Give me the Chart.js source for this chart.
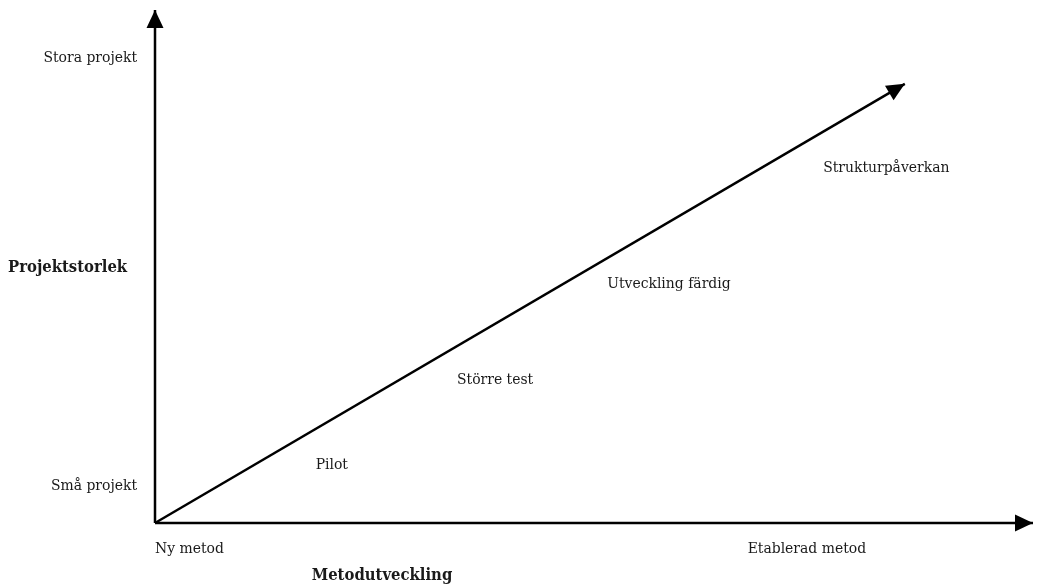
<!DOCTYPE html>
<html>
<head>
<meta charset="utf-8">
<script src="https://cdn.jsdelivr.net/npm/chart.js@4"></script>
<style>
  html, body { margin: 0; padding: 0; background: #fff; }
  #wrap { width: 1039px; height: 585px; }
</style>
</head>
<body>
<div id="wrap"><canvas id="c" width="1039" height="585"></canvas></div>
<script>
// ---------- data ----------
const xAxisTitle = "Metodutveckling";
const yAxisTitle = "Projektstorlek";
const xEndLabels = ["Ny metod", "Etablerad metod"];
const xEndPos    = [0, 67.5];
const yEndLabels = ["Små projekt", "Stora projekt"];
const yEndPos    = [7.2, 90.6];

// stages along the arrow
const stageLabels = ["Pilot", "Större test", "Utveckling färdig", "Strukturpåverkan"];
const stageX      = [18.3, 34.4, 51.5, 76.1];
const stageY      = [11.3, 27.9, 46.6, 69.2];

// the main arrow (start, end)
const trendX = [0, 85.4];
const trendY = [0, 85.6];

const FONT = "'DejaVu Serif Condensed', 'DejaVu Serif', serif";

// ---------- plugin: arrowheads + labels ----------
const diagramPlugin = {
  id: "diagram",
  afterDatasetsDraw(chart) {
    const ctx = chart.ctx;
    const xs = chart.scales.x, ys = chart.scales.y;

    // arrowheads at last point of each line
    chart.data.datasets.forEach((ds, i) => {
      const pts = chart.getDatasetMeta(i).data;
      if (pts.length < 2) return;
      const a = pts[pts.length - 2], b = pts[pts.length - 1];
      const ang = Math.atan2(b.y - a.y, b.x - a.x);
      const L = 18, W = 8.5;
      ctx.save();
      ctx.translate(b.x, b.y);
      ctx.rotate(ang);
      ctx.beginPath();
      ctx.moveTo(0, 0);
      ctx.lineTo(-L, -W);
      ctx.lineTo(-L, W);
      ctx.closePath();
      ctx.fillStyle = "#000";
      ctx.fill();
      ctx.restore();
    });

    ctx.save();
    ctx.fillStyle = "#1a1a1a";
    ctx.font = "15.5px " + FONT;
    ctx.textBaseline = "middle";

    // stage labels
    ctx.textAlign = "left";
    stageLabels.forEach((t, i) => {
      ctx.fillText(t, xs.getPixelForValue(stageX[i]), ys.getPixelForValue(stageY[i]));
    });

    // y end labels (right aligned, left of axis)
    ctx.textAlign = "right";
    yEndLabels.forEach((t, i) => {
      ctx.fillText(t, xs.left - 18, ys.getPixelForValue(yEndPos[i]));
    });

    // x end labels (below axis)
    ctx.textAlign = "left";
    xEndLabels.forEach((t, i) => {
      ctx.fillText(t, xs.getPixelForValue(xEndPos[i]), ys.bottom + 26);
    });

    // axis titles
    ctx.font = "bold 16.5px " + FONT;
    ctx.textAlign = "left";
    ctx.fillText(yAxisTitle, 8, (ys.top + ys.bottom) / 2 + 1);
    ctx.textAlign = "center";
    ctx.fillText(xAxisTitle, 382, ys.bottom + 53);
    ctx.restore();
  }
};

const lineStyle = {
  borderColor: "#000",
  borderWidth: 2.5,
  pointRadius: 0,
  showLine: true,
  fill: false,
  tension: 0,
  clip: false
};

new Chart(document.getElementById("c"), {
  type: "scatter",
  data: {
    datasets: [
      Object.assign({ label: "y", data: [{ x: 0, y: 0 }, { x: 0, y: 100 }] }, lineStyle),
      Object.assign({ label: "x", data: [{ x: 0, y: 0 }, { x: 100, y: 0 }] }, lineStyle),
      Object.assign({ label: "trend", data: trendX.map((x, i) => ({ x, y: trendY[i] })) }, lineStyle)
    ]
  },
  options: {
    responsive: false,
    animation: false,
    layout: { padding: { left: 155, right: 6, top: 10, bottom: 62 } },
    scales: {
      x: { type: "linear", min: 0, max: 100, display: false },
      y: { type: "linear", min: 0, max: 100, display: false }
    },
    plugins: {
      legend: { display: false },
      tooltip: { enabled: false }
    }
  },
  plugins: [diagramPlugin]
});
</script>
</body>
</html>
